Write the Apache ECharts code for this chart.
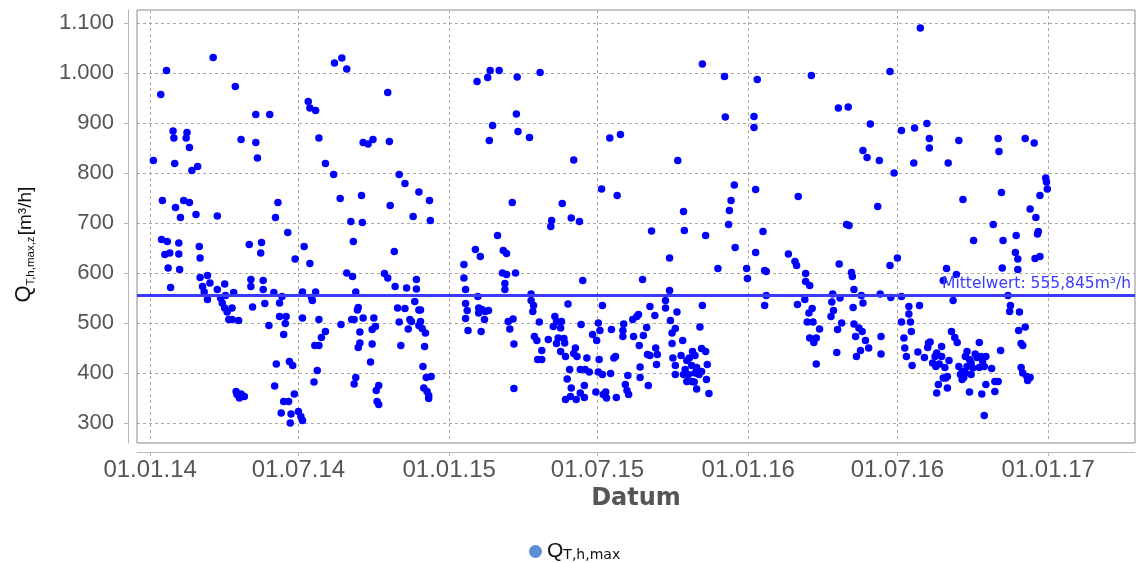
<!DOCTYPE html>
<html>
<head>
<meta charset="utf-8">
<script src="https://cdn.jsdelivr.net/npm/echarts@6/dist/echarts.min.js"></script>
<style>
  html, body { margin: 0; padding: 0; background: #fff; }
  #chart { width: 1136px; height: 563px; }
</style>
</head>
<body>
<div id="chart"></div>
<script>
// Daily peak flow Q_T,h,max in m³/h, one pair per reading: [days after 01.01.2014, value]
const points2014 = [
  [4,825],[13,957],[14,667],[15,745],[18,637],[20,1005],[21,663],[22,610],[24,640],[25,571],
  [28,884],[29,870],[30,819],[31,731],[35,660],[35,638],[36,607],[37,711],[41,745],[44,870],
  [45,881],[48,851],[48,741],[51,805],[56,717],[58,813],[60,653],[61,630],[61,591],[64,573],
  [66,562],[70,595],[70,547],[73,580],[77,1031],[82,714],[82,567],[86,550],[88,540],[91,578],
  [91,530],[92,555],[94,522],[96,507],[100,530],[100,507],[102,561],[104,973],[105,363],[106,357],
  [108,505],[109,350],[111,867],[111,358],[115,353],[121,657],[123,587],[123,573],[125,532],[129,917],
  [129,861],[131,830],[135,640],[136,661],[138,585],[138,567],[140,539],[145,495],[146,917],[151,561],
  [152,374],[153,711],[154,418],[156,741],[158,540],[158,513],[160,320],[161,553],[163,477],[163,343],
  [165,499],[166,513],[168,681],[169,343],[170,423],[171,300],[172,318],[174,415],[176,358],[177,628],
  [181,323],[184,313],[186,510],[186,305],[186,562],[188,653],[193,943],[195,930],[195,619],[197,551],
  [198,545],[200,382],[201,455],[202,925],[202,562],[204,405],[206,870],[206,507],[206,455],[209,471],
  [214,819],[214,483],[224,797],[225,1020],[232,749],[233,497],[234,1030],[240,1008],[240,600],[245,703],
  [246,507],[247,593],[248,663],[249,507],[249,378],[251,562],[251,391],[253,526],[254,531],[254,451],
  [256,482],[256,460],[258,755],[259,701],[260,861],[260,510],[266,858],[269,422],[271,487],[271,458],
  [272,867],[273,510],[275,493],[276,365],[277,343],[279,375],[279,337],[286,599],[290,961],[290,590],
  [292,863],[293,735],[298,643],[299,573],[302,530],[304,797],[304,502],[306,455],[311,779],[311,529],
  [313,570],[315,488],[317,507],[319,503],[321,713],[323,543],[325,587],[325,568],[328,762],[328,526],
  [328,495],[330,526],[330,503],[332,489],[333,413],[334,370],[335,453],[336,480],[337,391],[338,363],
  [340,355],[340,349],[341,745],[342,705],[343,393]
];
const points2015 = [
  [383,617],[383,590],[385,567],[385,539],[385,509],[387,525],[388,485],[397,647],[399,983],[400,553],
  [401,530],[401,520],[403,633],[404,483],[405,527],[408,507],[409,523],[412,991],[413,525],[414,865],
  [415,1005],[418,895],[424,675],[426,1005],[430,600],[431,645],[433,579],[433,567],[435,639],[435,597],
  [437,503],[439,488],[442,741],[443,508],[444,458],[444,369],[446,600],[447,918],[448,992],[449,883],
  [463,871],[465,558],[465,545],[467,523],[468,535],[469,473],[472,465],[473,427],[475,502],[476,1001],
  [478,445],[478,427],[486,467],[489,693],[490,705],[492,493],[494,513],[496,503],[496,459],[498,470],
  [501,490],[501,443],[502,503],[503,739],[505,469],[506,460],[507,433],[507,347],[509,388],[510,538],
  [512,407],[513,353],[514,710],[514,370],[517,826],[517,439],[519,450],[520,347],[521,433],[524,703],
  [525,407],[525,360],[526,497],[528,585],[530,375],[530,351],[531,407],[533,430],[536,402],[540,477],
  [544,362],[545,465],[547,500],[547,402],[548,427],[549,485],[551,768],[552,535],[552,397],[553,357],
  [556,362],[557,350],[561,870],[562,399],[563,487],[566,430],[568,433],[569,351],[570,755],[574,877],
  [577,485],[577,473],[578,498],[580,377],[582,365],[583,395],[584,357],[589,507],[590,473],[594,513],
  [596,517],[597,455],[598,412],[598,391],[601,587],[602,475],[606,491],[607,437],[608,375],[610,533],
  [610,435],[612,684],[616,515],[617,450],[618,417],[619,437],[629,545],[629,530],[634,630],[634,565],
  [635,505],[637,480],[637,459],[638,430],[641,489],[641,415],[641,397],[643,522],[644,825],[648,435],
  [650,465],[651,723],[651,397],[652,685],[653,407],[655,425],[655,383],[657,397],[658,430],[661,415],
  [661,383],[662,443],[664,382],[665,435],[665,400],[667,411],[667,368],[670,397],[671,492],[673,449],
  [673,403],[674,1018],[674,535],[678,675],[678,443],[679,387],[680,417],[682,359],[693,609],[701,993],
  [702,912],[706,697],[707,725],[709,745],[713,776],[714,651],[728,609],[729,589]
];
const points2016 = [
  [737,913],[737,891],[739,767],[739,641],[741,987],[748,683],[750,605],[750,535],[752,603],[752,555],
  [779,638],[787,623],[789,615],[790,537],[791,753],[799,547],[800,599],[800,583],[802,502],[804,520],
  [805,575],[805,470],[807,995],[808,529],[809,502],[810,467],[810,461],[813,470],[813,418],[817,488],
  [831,513],[832,542],[833,558],[834,525],[838,441],[839,487],[840,930],[841,618],[842,550],[844,500],
  [850,697],[852,932],[853,695],[856,601],[857,593],[858,531],[859,567],[859,498],[861,473],[862,433],
  [865,490],[867,445],[868,555],[869,483],[870,845],[870,540],[873,465],[875,831],[877,450],[879,898],
  [888,733],[890,825],[891,558],[892,473],[892,438],[903,1003],[903,615],[904,551],[908,800],[912,630],
  [917,885],[917,553],[917,502],[920,470],[921,450],[923,433],[926,533],[926,518],[928,502],[929,483],
  [930,415],[932,820],[933,890],[937,442],[939,535],[940,1090],[945,431],[948,899],[949,451],[950,460],
  [951,869],[951,850],[952,462],[955,420],[958,433],[959,413],[960,440],[960,360],[962,377],[963,418],
  [966,453],[966,433],[968,585],[968,390],[970,411],[971,390],[972,609],[973,393],[973,370],[974,820],
  [975,425],[978,483],[980,545],[982,471],[984,597],[985,461],[987,865],[987,413],[989,397],[991,403],
  [991,387],[992,747],[993,391],[995,433],[995,400],[997,443],[997,413],[1000,427],[1000,362],[1002,420],
  [1002,397],[1004,410],[1005,665],[1007,438],[1009,431],[1012,461],[1012,411],[1014,433],[1015,358],[1016,423],
  [1018,413],[1018,315],[1020,433],[1020,377],[1027,409],[1029,697],[1031,383],[1031,363],[1035,869],[1035,383],
  [1036,843],[1038,445],[1039,761],[1040,610],[1041,665],[1047,555],[1049,523],[1050,535],[1056,641],[1057,675],
  [1059,628],[1059,607],[1060,485],[1061,522],[1063,459],[1063,411],[1065,455],[1065,400],[1068,869],[1068,492],
  [1070,393],[1071,385],[1074,728],[1074,391],[1079,860],[1080,629],[1081,711],[1083,678],[1084,683],[1086,755],
  [1086,633],[1093,790],[1094,782],[1095,768]
];

// Axis ticks: half-year dates along the date axis, round flows on the value axis
const tickDates = ['2014-01-01', '2014-07-01', '2015-01-01', '2015-07-01', '2016-01-01', '2016-07-01', '2017-01-01'];
const flowTicks = [300, 400, 500, 600, 700, 800, 900, 1000, 1100];
const meanFlow = 555.845;
const seriesName = 'QT,h,max';

function dayToTime(d) { return new Date(2014, 0, 1 + d).getTime(); }
function parseDate(s) { const p = s.split('-').map(Number); return new Date(p[0], p[1] - 1, p[2]).getTime(); }
function pad(n) { return (n < 10 ? '0' : '') + n; }
function fmtDate(v) { const d = new Date(v); return pad(d.getDate()) + '.' + pad(d.getMonth() + 1) + '.' + String(d.getFullYear()).slice(2); }
function fmtFlow(v) { const s = String(Math.round(v)); return s.length > 3 ? s.slice(0, s.length - 3) + '.' + s.slice(-3) : s; }

const tickTimes = tickDates.map(parseDate);
const seriesData = points2014.concat(points2015, points2016).map(p => [dayToTime(p[0]), p[1]]);

const gridDash = { color: '#a8a8a8', width: 1, type: [3, 3] };
const axisGray = '#b8b8b8';
const labelGray = '#555555';
const sansFont = 'Liberation Sans, Arial, sans-serif';

// Rotated y-axis title, built from its three parts: symbol, subscript, unit
function titlePart(text, size, cx, cy) {
  return {
    type: 'text', x: cx, y: cy, rotation: Math.PI / 2,
    style: { text: text, fontSize: size, fontFamily: sansFont, fill: '#111', align: 'center', verticalAlign: 'middle' }
  };
}

const chart = echarts.init(document.getElementById('chart'), null, { renderer: 'canvas' });
chart.setOption({
  animation: false,
  backgroundColor: '#ffffff',
  grid: { left: 137, right: 1, top: 10, bottom: 120, show: true, borderColor: '#8a8a8a', borderWidth: 1, backgroundColor: '#ffffff' },
  xAxis: {
    type: 'value',
    min: dayToTime(-16),
    max: dayToTime(1202),
    offset: 9,
    axisLine: { show: true, lineStyle: { color: axisGray, width: 1 } },
    axisTick: { show: true, customValues: tickTimes, length: 4, lineStyle: { color: axisGray } },
    axisLabel: { customValues: tickTimes, formatter: fmtDate, color: labelGray, fontSize: 24, fontFamily: sansFont, margin: 6, hideOverlap: false },
    splitLine: { show: true, lineStyle: gridDash },
    name: 'Datum',
    nameLocation: 'middle',
    nameGap: 32,
    nameTextStyle: { color: labelGray, fontSize: 24, fontWeight: 'bold', fontFamily: 'DejaVu Sans, sans-serif' }
  },
  yAxis: {
    type: 'value',
    min: 260,
    max: 1126,
    offset: 9,
    axisLine: { show: true, lineStyle: { color: axisGray, width: 1 } },
    axisTick: { show: true, customValues: flowTicks, length: 4, lineStyle: { color: axisGray } },
    axisLabel: { customValues: flowTicks, formatter: fmtFlow, color: labelGray, fontSize: 22, fontFamily: sansFont, margin: 14 },
    splitLine: { show: true, lineStyle: gridDash }
  },
  legend: {
    left: 524,
    top: 536,
    itemWidth: 13,
    itemHeight: 13,
    data: [{ name: seriesName, icon: 'circle', itemStyle: { color: '#5a8fd8' } }],
    formatter: () => '{q|Q}{s|T,h,max}',
    textStyle: {
      rich: {
        q: { fontSize: 21, color: '#111', fontFamily: sansFont },
        s: { fontSize: 14, color: '#111', fontFamily: 'DejaVu Sans, sans-serif', padding: [7, 0, 0, 0] }
      }
    }
  },
  graphic: [
    titlePart('Q', 22, 24, 294),
    titlePart('T,h,max,z', 11.5, 31, 261),
    titlePart('[m³/h]', 19, 26, 211)
  ],
  series: [{
    name: seriesName,
    type: 'scatter',
    data: seriesData,
    symbol: 'circle',
    symbolSize: 7.5,
    itemStyle: { color: '#0000ff', opacity: 1 },
    z: 3,
    markLine: {
      silent: true,
      symbol: 'none',
      animation: false,
      lineStyle: { color: '#3b3bff', width: 3, type: 'solid' },
      label: {
        position: 'insideEndTop',
        formatter: 'Mittelwert: ' + meanFlow.toFixed(3).replace('.', ',') + 'm³/h',
        color: '#3b3bff',
        fontSize: 15.5,
        fontFamily: 'DejaVu Sans, sans-serif',
        distance: [4, 3]
      },
      data: [{ yAxis: meanFlow }]
    }
  }]
});
</script>
</body>
</html>
